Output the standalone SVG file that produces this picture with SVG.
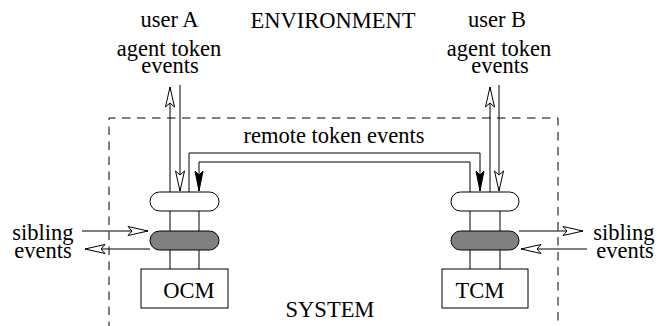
<svg xmlns="http://www.w3.org/2000/svg" width="661" height="326" viewBox="0 0 661 326">
<style>
text{font-family:"Liberation Serif","Times New Roman",serif;font-size:22.5px;fill:#000;text-anchor:middle}
.ln{fill:none;stroke:#000;stroke-width:1}
.dash{fill:none;stroke:#000;stroke-width:1;stroke-dasharray:8.5 6.5}
.pill{stroke:#000;stroke-width:1}
.box{fill:#fff;stroke:#000;stroke-width:1}
.open{marker-end:url(#openArrow)}
.solid{marker-end:url(#solidArrow)}
</style>
<defs>
<marker id="openArrow" viewBox="-22 -6 24 12" refX="0" refY="0" markerWidth="24" markerHeight="12" markerUnits="userSpaceOnUse" orient="auto">
<path d="M0,0 L-20,-4.5 L-16,0 L-20,4.5 Z" fill="#fff" stroke="#000" stroke-width="1"/>
</marker>
<marker id="solidArrow" viewBox="-22 -6 24 12" refX="0" refY="0" markerWidth="24" markerHeight="12" markerUnits="userSpaceOnUse" orient="auto">
<path d="M0,0 L-20,-4 L-16,0 L-20,4 Z" fill="#000" stroke="#000" stroke-width="1"/>
</marker>
</defs>

<g id="environment-labels">
<text x="333" y="28">ENVIRONMENT</text>
<text x="169.5" y="27">user A</text>
<text x="169" y="56">agent token</text>
<text x="170" y="73">events</text>
<text x="497" y="27">user B</text>
<text x="499" y="56">agent token</text>
<text x="500" y="73">events</text>
<text x="330" y="317">SYSTEM</text>
<text x="334" y="143">remote token events</text>
<text x="43" y="240">sibling</text>
<text x="43" y="258">events</text>
<text x="624" y="240">sibling</text>
<text x="625" y="258">events</text>
</g>

<g id="system-boundary">
<path class="dash" d="M109,330 V118 H558 V330"/>
</g>

<g id="connectors">
<line class="ln" x1="170" y1="211" x2="170" y2="231"/>
<line class="ln" x1="199" y1="211" x2="199" y2="231"/>
<line class="ln" x1="170" y1="250" x2="170" y2="269"/>
<line class="ln" x1="199" y1="250" x2="199" y2="269"/>
<line class="ln" x1="470" y1="211" x2="470" y2="231"/>
<line class="ln" x1="500" y1="211" x2="500" y2="231"/>
<line class="ln" x1="470" y1="250" x2="470" y2="269"/>
<line class="ln" x1="500" y1="250" x2="500" y2="269"/>
<line class="ln open" x1="170" y1="192" x2="170" y2="87"/>
<line class="ln open" x1="180" y1="85" x2="180" y2="191"/>
<line class="ln open" x1="490" y1="192" x2="490" y2="87"/>
<line class="ln open" x1="499" y1="85" x2="499" y2="191"/>
<path class="ln solid" d="M189,192 V153 H480 V191"/>
<path class="ln solid" d="M470,192 V162 H199 V191"/>
<line class="ln open" x1="82" y1="231" x2="148" y2="231"/>
<line class="ln open" x1="150" y1="249" x2="85" y2="249"/>
<line class="ln open" x1="519" y1="231" x2="583" y2="231"/>
<line class="ln open" x1="587" y1="249" x2="521" y2="249"/>
</g>

<g id="ocm-top">
<rect class="pill" x="150" y="192" width="69" height="19" rx="9.5" fill="#fff"/>
</g>
<g id="ocm-mid">
<rect class="pill" x="150" y="231" width="69" height="19" rx="9.5" fill="#808080"/>
</g>
<g id="ocm">
<rect class="box" x="141" y="269" width="87" height="39"/>
<text x="189" y="298">OCM</text>
</g>

<g id="tcm-top">
<rect class="pill" x="451" y="192" width="68" height="19" rx="9.5" fill="#fff"/>
</g>
<g id="tcm-mid">
<rect class="pill" x="451" y="231" width="68" height="19" rx="9.5" fill="#808080"/>
</g>
<g id="tcm">
<rect class="box" x="442" y="269" width="86" height="39"/>
<text x="480" y="298">TCM</text>
</g>
</svg>
